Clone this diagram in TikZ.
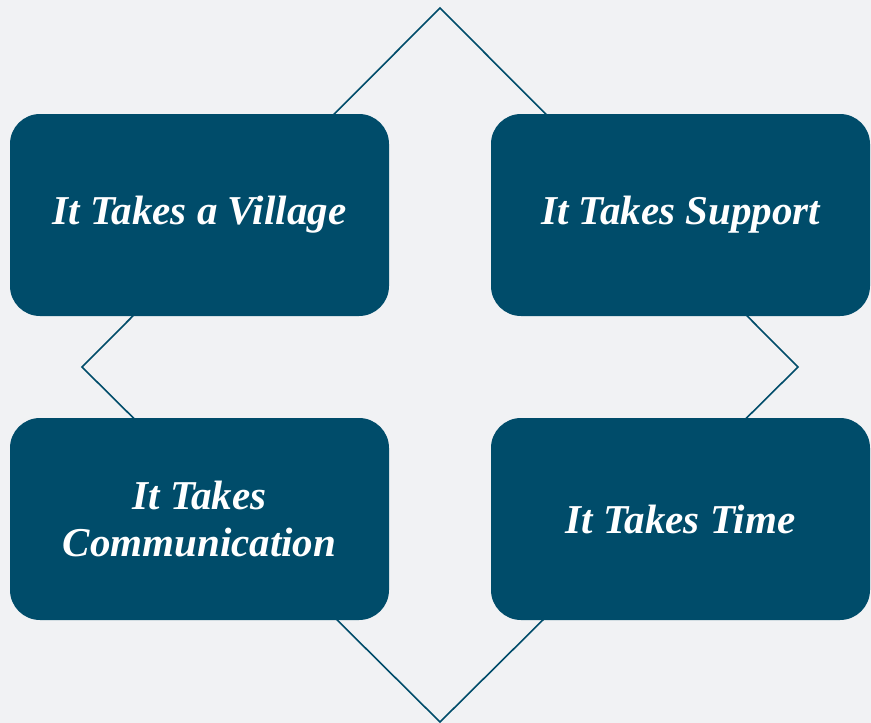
\documentclass[tikz,border=0pt]{standalone}
\usepackage{fontspec}
\setmainfont{Liberation Serif}
\definecolor{deepteal}{HTML}{004C6A}
\definecolor{paper}{HTML}{F1F2F4}
\begin{document}
\begin{tikzpicture}[x=1pt, y=-1pt,
    card/.style={fill=deepteal, rounded corners=30pt, minimum width=379pt, minimum height=202pt,
        inner sep=0pt, align=center, text=white, font=\bfseries\itshape\fontsize{41}{47}\selectfont}]
\useasboundingbox (0,0) rectangle (871,723);
\fill[paper] (0,0) rectangle (871,723);
% diamond behind the cards
\coordinate (top) at (440,8);
\coordinate (right) at (798,367);
\coordinate (bottom) at (440,722);
\coordinate (left) at (82,367);
\draw[deepteal, line width=1.6pt] (top)--(right)--(bottom)--(left)--cycle;
% cards
\node[card] (village) at (199.5,215) {It Takes a Village};
\node[card] (support) at (680.5,215) {It Takes Support};
\node[card] (communication) at (199.5,519) {It Takes\\Communication};
\node[card] (time) at (680.5,519) {It Takes Time};
\end{tikzpicture}
\end{document}
